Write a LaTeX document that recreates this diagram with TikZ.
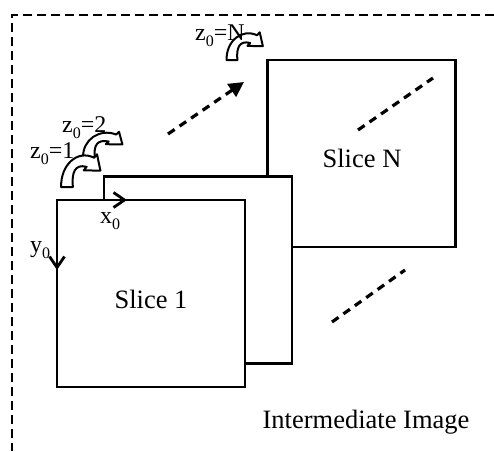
\documentclass[tikz,border=0pt]{standalone}
\usepackage{fontspec}
\setmainfont{Liberation Serif}
\usetikzlibrary{arrows.meta}
\newcommand\zsub{z\raisebox{-6pt}{\fontsize{16}{16}\selectfont 0}}
\newcommand\xysub[1]{#1\raisebox{-6pt}{\fontsize{16}{16}\selectfont 0}}
\tikzset{
  rotarrow/.pic={
    \draw[line width=2pt, fill=white, line join=round]
      (-4.5,0) .. controls (-5,-17) and (8,-29) .. (20.9,-22.5)
      -- (23.1,-25.2) -- (25.7,-12.6) -- (12.9,-12.8) -- (15.1,-15.5)
      .. controls (6,-18) and (3.5,-11) .. (4.5,0) -- cycle;
  }
}
\begin{document}
\begin{tikzpicture}[x=1pt,y=-1pt,
  slicebox/.style={draw, line width=2.8pt, fill=white, inner sep=0pt, outer sep=0pt,
                   minimum width=188pt, minimum height=187pt},
  lbl/.style={font=\fontsize{26.5}{30}\selectfont, inner sep=0pt},
  zlbl/.style={font=\fontsize{24}{27}\selectfont, inner sep=0pt},
  dline/.style={dash pattern=on 8pt off 6pt, line width=3.2pt},
  framestyle/.style={dash pattern=on 9pt off 5pt, line width=2.6pt},
  axisarrow/.style={line width=2.8pt, -{Straight Barb[length=11pt,width=15pt,line width=2.8pt]}}
]
\useasboundingbox (0,0) rectangle (494,451);
% frame
\coordinate (fTL) at (12,15);
\coordinate (fTR) at (494,15);
\coordinate (fBL) at (12,451);
\draw[framestyle] (fTR) -- (fTL) -- (fBL);

% slices
\node[slicebox] (sN) at (361.5,153.5) {};
\node[slicebox] (s2) at (198,270) {};
\node[slicebox] (s1) at (151,293.5) {};

% texts
\node[lbl, anchor=base] (tN) at (362,167) {Slice N};
\node[lbl, anchor=base] (t1) at (151,308) {Slice 1};
\node[lbl, anchor=base] (tI) at (366,428) {Intermediate Image};

% axes
\coordinate (xend) at (127,200);
\coordinate (yend) at (57,270);
\draw[axisarrow] (s1.north west) -- (xend);
\draw[axisarrow] (s1.north west) -- (yend);
\node[zlbl, anchor=base west] (lx) at (100,223) {\xysub{x}};
\node[zlbl, anchor=base west] (ly) at (30,252) {\xysub{y}};

% dashed lines
\coordinate (da1) at (168,134);
\coordinate (da2) at (244,82);
\draw[dline, -{Triangle[length=15pt,width=15pt]}] (da1) -- (da2);
\coordinate (db1) at (358,130);
\coordinate (db2) at (433,78);
\draw[dline] (db1) -- (db2);
\coordinate (dc1) at (332,322);
\coordinate (dc2) at (405,270);
\draw[dline] (dc1) -- (dc2);

% rotation arrows and z labels
\pic[xscale=1.3, yscale=1.0] at (89,157) {rotarrow};
\pic[xscale=1.3, yscale=1.3] at (67,187) {rotarrow};
\pic[xscale=1.2, yscale=1.1] at (232,60) {rotarrow};
\node[zlbl, anchor=base west] (z1) at (30,158) {\zsub=1};
\node[zlbl, anchor=base west] (z2) at (62,132) {\zsub=2};
\node[zlbl, anchor=base west] (zN) at (195,40) {\zsub=N};
\end{tikzpicture}
\end{document}
